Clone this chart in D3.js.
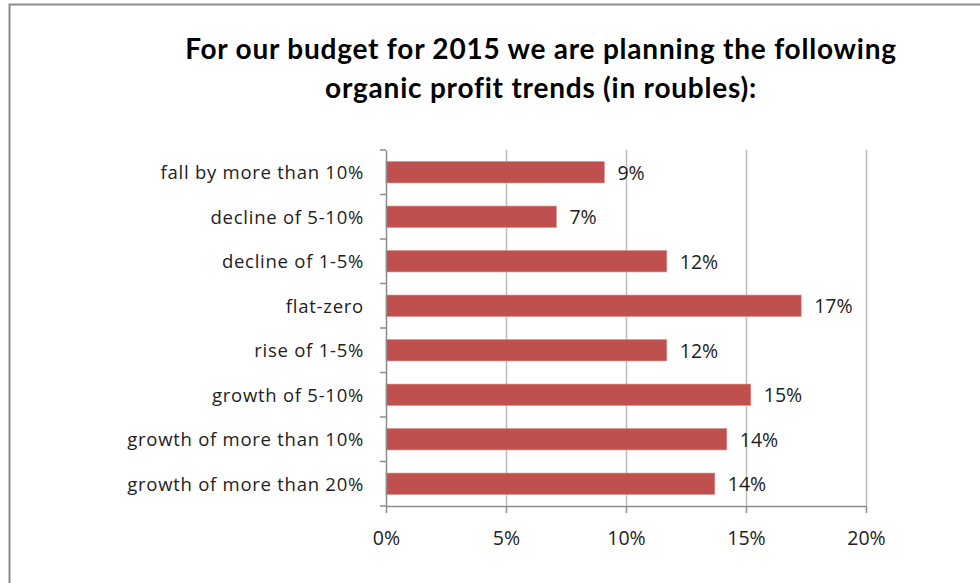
<!DOCTYPE html>
<html><head><meta charset="utf-8">
<script src="https://cdn.jsdelivr.net/npm/d3@7"></script>
<style>body{margin:0;background:#fff}svg{display:block}</style>
</head><body>
<script>
const categories = ["fall by more than 10%","decline of 5-10%","decline of 1-5%","flat-zero","rise of 1-5%","growth of 5-10%","growth of more than 10%","growth of more than 20%"];
const values = [9.1, 7.1, 11.7, 17.3, 11.7, 15.2, 14.2, 13.7];
const valueLabels = ["9%","7%","12%","17%","12%","15%","14%","14%"];
const tickValues = [0,5,10,15,20];
const titleLines = ["For our budget for 2015 we are planning the following","organic profit trends (in roubles):"];

const W=980,H=583;
const svg=d3.select("body").append("svg").attr("width",W).attr("height",H);
const font="'Open Sans', Lato, sans-serif";
const tfont="Lato, 'Open Sans', sans-serif";
svg.append("rect").attr("width",W).attr("height",H).attr("fill","#fff");
svg.append("path").attr("d","M9.5,583 L9.5,4.5 L980,4.5").attr("fill","none").attr("stroke","#8c8c8c").attr("stroke-width",2);

const x=d3.scaleLinear().domain([0,20]).range([386,866]);
const y=d3.scaleBand().domain(categories).range([150,506]).paddingInner(0.52).paddingOuter(0.26);

svg.append("g").selectAll("line").data(tickValues.slice(1)).join("line")
 .attr("x1",d=>x(d)+0.5).attr("x2",d=>x(d)+0.5).attr("y1",150).attr("y2",506)
 .attr("stroke","#bdbdbd").attr("stroke-width",1.5);

svg.append("g").selectAll("rect").data(values).join("rect")
 .attr("x",x(0)).attr("y",(d,i)=>y(categories[i])).attr("width",d=>x(d)-x(0)).attr("height",y.bandwidth())
 .attr("fill","#C0504D").attr("stroke","#d98a88").attr("stroke-width",0.6);

svg.append("g").selectAll("text").data(values).join("text")
 .attr("x",d=>x(d)+13).attr("y",(d,i)=>y(categories[i])+y.bandwidth()/2+7.5)
 .attr("font-family",font).attr("font-size",19.5).attr("fill","#222")
 .text((d,i)=>valueLabels[i]);

const xa=svg.append("g").attr("transform","translate(0,506)")
 .call(d3.axisBottom(x).tickValues(tickValues).tickFormat(d=>d+"%").tickSize(7).tickSizeOuter(0));
xa.select(".domain").attr("stroke","#8c8c8c").attr("stroke-width",1.5);
xa.selectAll(".tick line").attr("stroke","#8c8c8c").attr("stroke-width",1.5);
xa.selectAll("text").attr("font-family",font).attr("font-size",19.5).attr("fill","#222").attr("y",39).attr("dy",0);

const ya=svg.append("g").attr("transform","translate(386,0)")
 .call(d3.axisLeft(y).tickSize(0).tickPadding(22));
ya.select(".domain").attr("stroke","#8c8c8c").attr("stroke-width",1.5);
const yt=ya.selectAll("text").attr("font-family",font).attr("font-size",18.5).attr("fill","#222").attr("dy",0).attr("y",7);
(function(){
  const longest=yt.filter(d=>d==="growth of more than 20%").node();
  const w=longest.getComputedTextLength();
  const ls=(236-w)/(longest.textContent.length-1);
  yt.attr("letter-spacing",ls.toFixed(2));
})();
const bounds=d3.range(categories.length+1).map(i=>150+i*(356/categories.length));
ya.append("g").selectAll("line").data(bounds).join("line")
 .attr("x1",-6).attr("x2",0).attr("y1",d=>d).attr("y2",d=>d).attr("stroke","#8c8c8c").attr("stroke-width",1.5);

const tt=svg.append("g").selectAll("text").data(titleLines).join("text")
 .attr("x",541).attr("y",(d,i)=>59+i*39).attr("text-anchor","middle")
 .attr("font-family",tfont).attr("font-weight","bold").attr("font-size",28).attr("fill","#000")
 .text(d=>d);
(function(){
  const n=tt.node(); const w=n.getComputedTextLength();
  tt.attr("letter-spacing",((711-w)/(n.textContent.length-1)).toFixed(2));
})();
</script>
</body></html>
